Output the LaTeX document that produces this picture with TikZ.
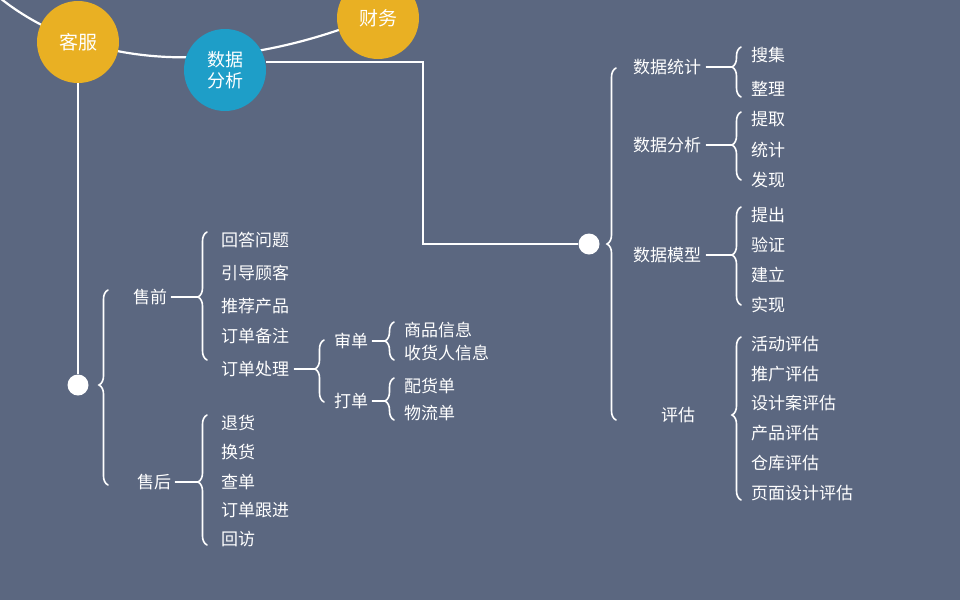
\documentclass[tikz,border=0pt]{standalone}
\usepackage{fontspec}
\setmainfont{Noto Sans CJK SC}
\usetikzlibrary{decorations.pathreplacing}
\definecolor{bgslate}{RGB}{91,103,128}
\definecolor{hubgold}{RGB}{233,176,35}
\definecolor{hubblue}{RGB}{30,158,200}
\tikzset{
  hub/.style={circle, minimum size=82pt, inner sep=0pt, text=white,
    font=\fontsize{19}{22}\selectfont, align=center},
  item/.style={anchor=west, text=white, inner sep=1pt, font=\fontsize{17}{19}\selectfont},
  wire/.style={white, line width=2.2pt},
  brc/.style={white, line width=1.6pt, line cap=round}
}
% brace: x, top, bottom, tip
\newcommand\bracket[4]{%
  \pgfmathsetmacro\brasp{(#3-#4)/(#3-#2)}%
  \draw[brc, decorate, decoration={brace, amplitude=9pt, aspect=\brasp}] (#1,#3) -- (#1,#2);}
\begin{document}
\begin{tikzpicture}[x=1pt, y=-1pt]
  \fill[bgslate] (0,0) rectangle (960,600);
  \useasboundingbox (0,0) rectangle (960,600);
  \clip (0,0) rectangle (960,600);

  % arc through the hubs
  \draw[wire] (-5,-6) .. controls (110,90) and (290,70) .. (450,-20);
  \node[hub, fill=hubgold] (kf) at (78,42) {客服};
  \node[hub, fill=hubblue, font=\fontsize{18}{21}\selectfont] (sj) at (225,70) {数据\\分析};
  \node[hub, fill=hubgold] (cw) at (378,18) {财务};

  % left tree
  \node[circle, fill=white, minimum size=21pt, inner sep=0pt] (kdot) at (78,385) {};
  \draw[wire] (kf.south) -- (kdot);
  \bracket{108}{290}{485}{385}
  \node[item] (sq) at (132,297) {售前};
  \node[item] (sh) at (136,482) {售后};

  \bracket{207}{232}{360}{297}
  \draw[brc] ([xshift=3pt]sq.east) -- (198,297);
  \foreach \t/\y in {回答问题/240, 引导顾客/273, 推荐产品/306, 订单备注/336, 订单处理/369}
    \node[item] (sq-\y) at (220,\y) {\t};
  \bracket{207}{415}{545}{482}
  \draw[brc] ([xshift=3pt]sh.east) -- (198,482);
  \foreach \t/\y in {退货/423, 换货/452, 查单/482, 订单跟进/510, 回访/539}
    \node[item] (sh-\y) at (220,\y) {\t};

  \bracket{324}{340}{402}{369}
  \draw[brc] ([xshift=4pt]sq-369.east) -- (315,369);
  \node[item] (sd) at (333,341) {审单};
  \node[item] (dd) at (333,401) {打单};
  \bracket{394}{322}{360}{341}
  \draw[brc] ([xshift=3pt]sd.east) -- (385,341);
  \node[item] (sd-1) at (403,330) {商品信息};
  \node[item] (sd-2) at (403,353) {收货人信息};
  \bracket{394}{378}{420}{401}
  \draw[brc] ([xshift=3pt]dd.east) -- (385,401);
  \node[item] (dd-1) at (403,386) {配货单};
  \node[item] (dd-2) at (403,413) {物流单};

  % right tree
  \node[circle, fill=white, minimum size=21pt, inner sep=0pt] (sdot) at (589,244) {};
  \draw[wire, line width=1.8pt] (sj.east |- 0,62) -- (423,62) -- (423,244) -- (sdot);
  \bracket{616}{68}{420}{244}
  \node[item] (tj) at (632,67) {数据统计};
  \node[item] (fx) at (632,145) {数据分析};
  \node[item] (mx) at (632,255) {数据模型};
  \node[item] (pg) at (660,415) {评估};

  \bracket{741}{47}{97}{67}
  \draw[brc] ([xshift=4pt]tj.east) -- (732,67);
  \foreach \t/\y in {搜集/55, 整理/89}
    \node[item] (tj-\y) at (750,\y) {\t};
  \bracket{741}{112}{180}{145}
  \draw[brc] ([xshift=4pt]fx.east) -- (732,145);
  \foreach \t/\y in {提取/119, 统计/150, 发现/180}
    \node[item] (fx-\y) at (750,\y) {\t};
  \bracket{741}{207}{305}{255}
  \draw[brc] ([xshift=4pt]mx.east) -- (732,255);
  \foreach \t/\y in {提出/215, 验证/245, 建立/275, 实现/305}
    \node[item] (mx-\y) at (750,\y) {\t};
  \bracket{741}{337}{500}{415}
  \foreach \t/\y in {活动评估/344, 推广评估/374, 设计案评估/403, 产品评估/433, 仓库评估/463, 页面设计评估/493}
    \node[item] (pg-\y) at (750,\y) {\t};
\end{tikzpicture}
\end{document}
